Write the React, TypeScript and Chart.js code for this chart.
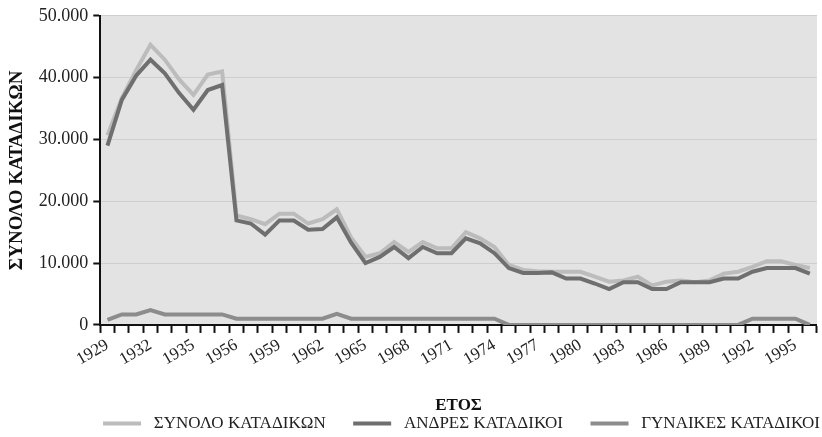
import React, { useEffect, useRef } from "react";
import { Chart, registerables } from "chart.js";

Chart.register(...registerables);

const years: string[] = [
  "1929", "1930", "1931", "1932", "1933", "1934", "1935", "1936", "1937",
  "1956", "1957", "1958", "1959", "1960", "1961", "1962", "1963", "1964", "1965",
  "1966", "1967", "1968", "1969", "1970", "1971", "1972", "1973", "1974", "1975",
  "1976", "1977", "1978", "1979", "1980", "1981", "1982", "1983", "1984", "1985",
  "1986", "1987", "1988", "1989", "1990", "1991", "1992", "1993", "1994", "1995", "1996",
];

const total: number[] = [
  30700, 36700, 41200, 45300, 42900, 39700, 37200, 40500, 41000,
  17700, 17100, 16300, 18000, 18000, 16400, 17100, 18700, 14100, 11000,
  11600, 13400, 11800, 13400, 12400, 12400, 15000, 14000, 12600, 9700,
  8900, 8700, 8600, 8600, 8600, 7800, 7000, 7200, 7800, 6400,
  7000, 7200, 6900, 7200, 8300, 8600, 9400, 10300, 10300, 9700, 9200,
];

const men: number[] = [
  29000, 36400, 40300, 42900, 40700, 37500, 34800, 38000, 38800,
  16900, 16400, 14600, 16900, 16900, 15400, 15500, 17400, 13300, 10000,
  11000, 12600, 10800, 12600, 11600, 11600, 14000, 13200, 11600, 9200,
  8400, 8400, 8500, 7500, 7500, 6700, 5800, 6900, 6900, 5800,
  5800, 6900, 6900, 6900, 7500, 7500, 8600, 9200, 9200, 9200, 8300,
];

const women: number[] = [
  800, 1700, 1700, 2400, 1700, 1700, 1700, 1700, 1700,
  1000, 1000, 1000, 1000, 1000, 1000, 1000, 1800, 1000, 1000,
  1000, 1000, 1000, 1000, 1000, 1000, 1000, 1000, 1000, 0,
  0, 0, 0, 0, 0, 0, 0, 0, 0, 0,
  0, 0, 0, 0, 0, 0, 1000, 1000, 1000, 1000, 0,
];

const seriesNames: string[] = ["ΣΥΝΟΛΟ ΚΑΤΑΔΙΚΩΝ", "ΑΝΔΡΕΣ ΚΑΤΑΔΙΚΟΙ", "ΓΥΝΑΙΚΕΣ ΚΑΤΑΔΙΚΟΙ"];
const seriesColors: string[] = ["#bcbcbc", "#6f6f6f", "#8c8c8c"];

const FONT = "'Liberation Serif', 'Times New Roman', serif";

const plotBg = {
  id: "plotBg",
  beforeDraw(chart: any) {
    const { ctx, chartArea } = chart;
    if (!chartArea) return;
    ctx.save();
    ctx.fillStyle = "#e3e3e3";
    ctx.fillRect(chartArea.left, chartArea.top, chartArea.right - chartArea.left, chartArea.bottom - chartArea.top);
    ctx.restore();
  },
};

function fmt(v: number): string {
  return String(v).replace(/\B(?=(\d{3})+(?!\d))/g, ".");
}

export default function App() {
  const ref = useRef<HTMLCanvasElement | null>(null);

  useEffect(() => {
    if (!ref.current) return;
    const data = [total, men, women];
    const chart = new Chart(ref.current, {
      type: "line",
      data: {
        labels: years,
        datasets: data.map((d, i) => ({
          label: seriesNames[i],
          data: d,
          borderColor: seriesColors[i],
          backgroundColor: seriesColors[i],
          borderWidth: 4,
          pointRadius: 0,
          tension: 0,
          order: i === 0 ? 2 : i === 1 ? 0 : 1,
        })),
      },
      options: {
        animation: false,
        responsive: true,
        maintainAspectRatio: false,
        layout: { padding: { left: 6, right: 0, top: 5, bottom: -5 } },
        plugins: {
          tooltip: { enabled: false },
          legend: {
            position: "bottom",
            align: "end",
            labels: {
              font: { family: FONT, size: 17 },
              color: "#222",
              boxWidth: 38,
              boxHeight: 4,
              padding: 2,
              sort: (a: any, b: any) => a.datasetIndex - b.datasetIndex,
              generateLabels: (ch: any) => {
                const items = Chart.defaults.plugins.legend.labels.generateLabels(ch);
                const last = seriesNames.length - 1;
                return items.map((it: any) => ({
                  ...it,
                  lineWidth: 0,
                  text: " " + it.text + (it.datasetIndex < last ? "      " : ""),
                }));
              },
            },
          },
        },
        scales: {
          x: {
            type: "category",
            offset: true,
            border: { color: "#111", width: 2 },
            grid: {
              offset: true,
              drawOnChartArea: false,
              drawTicks: true,
              tickLength: 8,
              tickColor: "#111",
              tickWidth: 2,
            },
            ticks: {
              autoSkip: false,
              maxRotation: 30,
              minRotation: 30,
              padding: 2,
              color: "#222",
              font: { family: FONT, size: 17 },
              callback: (_v: any, i: number) => (i % 3 === 0 ? years[i] : ""),
            },
            title: {
              display: true,
              text: "ΕΤΟΣ",
              color: "#111",
              font: { family: FONT, size: 17, weight: "bold" },
              padding: { top: 24, bottom: -3 },
            },
          },
          y: {
            min: 0,
            max: 50000,
            border: { color: "#111", width: 2 },
            grid: {
              color: "#cfcfcf",
              lineWidth: 1,
              tickColor: "#111",
              tickWidth: 2,
              tickLength: 7,
            },
            ticks: {
              stepSize: 10000,
              padding: 5,
              color: "#222",
              font: { family: FONT, size: 18 },
              callback: (v: any) => fmt(Number(v)),
            },
            title: {
              display: true,
              text: "ΣΥΝΟΛΟ ΚΑΤΑΔΙΚΩΝ",
              color: "#111",
              font: { family: FONT, size: 19, weight: "bold" },
              padding: { top: 0, bottom: 5 },
            },
          },
        },
      },
      plugins: [plotBg],
    });
    return () => chart.destroy();
  }, []);

  return (
    <div style={{ position: "fixed", left: 0, top: 0, width: 822, height: 437, background: "#fff" }}>
      <canvas ref={ref} />
    </div>
  );
}
